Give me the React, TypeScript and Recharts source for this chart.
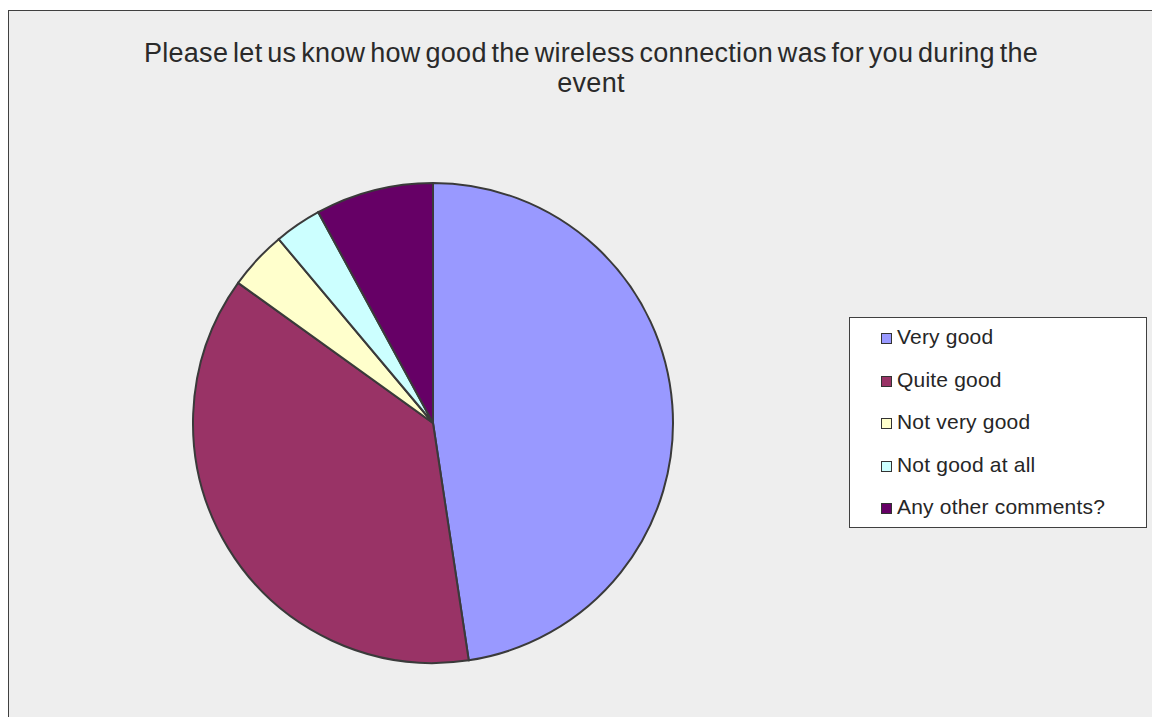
import { PieChart, Pie, Cell, Legend } from 'recharts';

const categories = ['Very good', 'Quite good', 'Not very good', 'Not good at all', 'Any other comments?'];
const responses = [60, 47, 5, 4, 10];
const colors = ['#9999FF', '#993366', '#FFFFCC', '#CCFFFF', '#660066'];

const data = categories.map((name, i) => ({ name, value: responses[i] }));

// legend keeps the series order (recharts would otherwise reverse it here)
const renderLegend = () => (
  <div
    style={{
      border: '1px solid #404040',
      background: '#ffffff',
      width: 298,
      height: 211,
      boxSizing: 'border-box',
      padding: '0 0 0 31px',
      overflow: 'hidden',
      fontFamily: 'Liberation Sans, Arial, sans-serif',
      fontSize: 21,
      letterSpacing: 0.2,
      color: '#262626',
    }}
  >
    <div style={{ marginTop: -2 }}>
      {categories.map((name, i) => (
        <div key={name} style={{ height: 42.5, lineHeight: '42.5px', whiteSpace: 'nowrap' }}>
          <span
            style={{
              display: 'inline-block',
              width: 9,
              height: 9,
              border: '1.5px solid #333',
              background: colors[i],
              marginRight: 5,
              verticalAlign: 'baseline',
            }}
          />
          {name}
        </div>
      ))}
    </div>
  </div>
);

const App = () => {
  return (
    <>
      <style>{'body{margin:0;overflow:hidden}'}</style>
      <div
        style={{
          position: 'absolute',
          left: 8,
          top: 10,
          width: 1160,
          height: 720,
          borderLeft: '1px solid #404040',
          borderTop: '1px solid #404040',
          background: '#eeeeee',
          overflow: 'hidden',
        }}
      >
        <div
          style={{
            position: 'absolute',
            left: 0,
            top: 27,
            width: 1164,
            textAlign: 'center',
            fontFamily: 'Liberation Sans, Arial, sans-serif',
            fontSize: 27,
            letterSpacing: 0.3,
            wordSpacing: -3,
            lineHeight: '30px',
            color: '#2a2a2a',
            zIndex: 1,
          }}
        >
          <div>Please let us know how good the wireless connection was for you during the</div>
          <div>event</div>
        </div>
        <PieChart width={1160} height={720}>
          <Pie
            data={data}
            dataKey="value"
            nameKey="name"
            cx={419}
            cy={407}
            outerRadius={240}
            startAngle={90}
            endAngle={-270}
            stroke="#3a3a3a"
            strokeWidth={2}
            isAnimationActive={false}
          >
            {data.map((entry, i) => (
              <Cell key={entry.name} fill={colors[i]} />
            ))}
          </Pie>
          <Legend
            layout="vertical"
            content={renderLegend}
            wrapperStyle={{ position: 'absolute', left: 840, top: 306, width: 298 }}
          />
        </PieChart>
      </div>
    </>
  );
};

export default App;
